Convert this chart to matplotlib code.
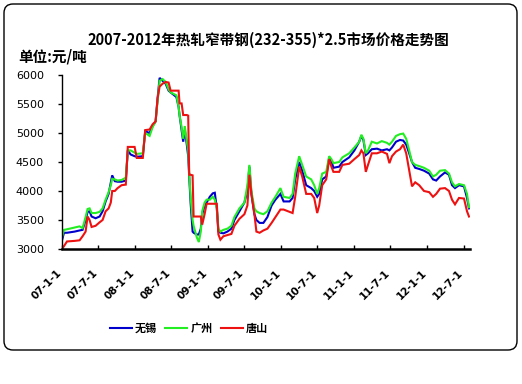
import matplotlib
matplotlib.use("Agg")
import matplotlib.pyplot as plt
from matplotlib.patches import FancyBboxPatch
from matplotlib.transforms import IdentityTransform, ScaledTranslation
import pandas as pd

plt.rcParams['font.family'] = ['Noto Sans CJK SC', 'DejaVu Sans']

dates = [
    "2007-01-01", "2007-01-11", "2007-01-26", "2007-03-05", "2007-03-30", "2007-04-14", "2007-04-29",
    "2007-05-09", "2007-05-19", "2007-05-29", "2007-06-18", "2007-07-08", "2007-07-23", "2007-08-07",
    "2007-08-22", "2007-09-02", "2007-09-09", "2007-09-22", "2007-10-06", "2007-10-26", "2007-11-16",
    "2007-11-26", "2007-12-10", "2007-12-30", "2008-01-10", "2008-02-09", "2008-02-21", "2008-03-14",
    "2008-03-29", "2008-04-13", "2008-04-23", "2008-05-03", "2008-05-18", "2008-06-02", "2008-06-17",
    "2008-06-27", "2008-07-26", "2008-08-06", "2008-08-11", "2008-08-21", "2008-08-29", "2008-09-06",
    "2008-09-16", "2008-09-23", "2008-09-28", "2008-10-05", "2008-10-15", "2008-10-20", "2008-11-05",
    "2008-11-15", "2008-11-25", "2008-12-02", "2008-12-14", "2008-12-24", "2009-01-09", "2009-01-24",
    "2009-02-03", "2009-02-13", "2009-02-21", "2009-03-03", "2009-03-18", "2009-04-07", "2009-04-27",
    "2009-05-12", "2009-06-06", "2009-07-01", "2009-07-16", "2009-07-26", "2009-08-05", "2009-08-20",
    "2009-08-30", "2009-09-15", "2009-10-04", "2009-10-24", "2009-11-14", "2009-12-03", "2009-12-28",
    "2010-01-13", "2010-02-12", "2010-02-27", "2010-03-12", "2010-04-01", "2010-04-16", "2010-05-06",
    "2010-05-31", "2010-06-15", "2010-06-30", "2010-07-10", "2010-07-25", "2010-08-14", "2010-08-29",
    "2010-09-09", "2010-09-19", "2010-10-18", "2010-11-03", "2010-12-07", "2011-01-02", "2011-01-26",
    "2011-02-06", "2011-02-16", "2011-02-28", "2011-03-11", "2011-03-30", "2011-04-25", "2011-05-19",
    "2011-06-14", "2011-06-26", "2011-07-09", "2011-07-29", "2011-08-18", "2011-09-03", "2011-09-18",
    "2011-10-03", "2011-10-17", "2011-11-02", "2011-11-22", "2011-12-16", "2012-01-11", "2012-01-30",
    "2012-02-15", "2012-03-05", "2012-03-30", "2012-04-19", "2012-05-04", "2012-05-19", "2012-06-08",
    "2012-07-03", "2012-07-18", "2012-07-28",
]

wuxi = [
    3150, 3280, 3280, 3300, 3320, 3330, 3500,
    3640, 3650, 3560, 3530, 3560, 3650, 3820,
    3950, 4150, 4270, 4170, 4160, 4160, 4180,
    4700, 4630, 4600, 4590, 4600, 5030, 5000,
    5120, 5200, 5600, 5950, 5900, 5850, 5730,
    5700, 5620, 5450, 5300, 5050, 4850, 5050,
    4800, 4600, 4250, 3800, 3300, 3280, 3250,
    3250, 3350, 3600, 3750, 3800, 3900, 3960,
    3970, 3700, 3300, 3280, 3270, 3300, 3350,
    3500, 3650, 3800, 4000, 4420, 3950, 3600,
    3500, 3450, 3450, 3550, 3750, 3850, 3950,
    3820, 3820, 3880, 4200, 4500, 4350, 4100,
    4050, 4000, 3900, 3950, 4200, 4250, 4580,
    4520, 4400, 4420, 4500, 4580, 4700, 4850,
    4950, 4880, 4620, 4650, 4720, 4730, 4700,
    4720, 4700, 4750, 4850, 4880, 4870, 4800,
    4650, 4500, 4400, 4380, 4350, 4300, 4200,
    4180, 4250, 4320, 4280, 4100, 4050, 4100,
    4080, 3880, 3700,
]

guangzhou = [
    3200, 3330, 3340, 3370, 3390, 3360, 3550,
    3690, 3700, 3620, 3620, 3640, 3700, 3850,
    3980, 4100, 4210, 4200, 4180, 4190, 4230,
    4700, 4700, 4660, 4640, 4650, 5000, 4950,
    5100, 5200, 5550, 5900, 5930, 5880, 5750,
    5700, 5650, 5450, 5300, 5100, 4900, 5120,
    4850, 4700, 4300, 3900, 3500, 3400, 3200,
    3120, 3300, 3650, 3800, 3850, 3850, 3900,
    3850, 3700, 3350, 3300, 3330, 3350, 3400,
    3550, 3700, 3800, 4100, 4450, 4000, 3700,
    3650, 3620, 3600, 3650, 3800, 3900, 4050,
    3900, 3880, 3950, 4300, 4600, 4450, 4250,
    4200, 4100, 3950, 4050, 4300, 4330, 4600,
    4550, 4480, 4500, 4580, 4650, 4750, 4850,
    4970, 4900, 4650, 4700, 4850, 4820, 4860,
    4830, 4800, 4850, 4950, 4980, 4990, 4900,
    4700, 4500, 4450, 4430, 4400, 4350, 4250,
    4280, 4350, 4360, 4300, 4150, 4080, 4120,
    4100, 3950, 3720,
]

tangshan = [
    3000, 3050, 3130, 3140, 3150, 3220, 3300,
    3560, 3500, 3380, 3400, 3460, 3500, 3650,
    3700, 3800, 4000, 4000, 4050, 4100, 4110,
    4760, 4760, 4760, 4570, 4570, 5050, 5060,
    5150, 5200, 5600, 5800, 5850, 5880, 5870,
    5730, 5730, 5730, 5510, 5510, 5310, 5310,
    5310, 5300, 4280, 4280, 4270, 3560, 3560,
    3560, 3560, 3420, 3600, 3780, 3780, 3780,
    3780, 3780, 3250, 3160, 3220, 3240, 3260,
    3400, 3520, 3600, 3750, 4280, 3950, 3600,
    3300, 3280, 3320, 3350, 3450, 3550, 3680,
    3680, 3640, 3620, 3900, 4420, 4250, 3950,
    3950, 3880, 3620, 3750, 4100, 4200, 4550,
    4420, 4330, 4330, 4450, 4470, 4550, 4620,
    4700, 4650, 4330, 4450, 4650, 4650, 4680,
    4640, 4480, 4600, 4680, 4720, 4800, 4650,
    4350, 4080, 4150, 4100, 4000, 3980, 3900,
    3950, 4040, 4050, 4000, 3850, 3770, 3880,
    3870, 3650, 3560,
]

tick_dates = ["2007-01-01", "2007-07-01", "2008-01-01", "2008-07-01", "2009-01-01", "2009-07-01",
              "2010-01-01", "2010-07-01", "2011-01-01", "2011-07-01", "2012-01-01", "2012-07-01"]
tick_labels = ["07-1-1", "07-7-1", "08-1-1", "08-7-1", "09-1-1", "09-7-1",
               "10-1-1", "10-7-1", "11-1-1", "11-7-1", "12-1-1", "12-7-1"]
y_ticks = [3000, 3500, 4000, 4500, 5000, 5500, 6000]

series_names = ["无锡", "广州", "唐山"]
series_colors = ["#0000CC", "#22EE22", "#EE1111"]

title = "2007-2012年热轧窄带钢(232-355)*2.5市场价格走势图"
unit = "单位:元/吨"

x = pd.to_datetime(dates)

fig = plt.figure(figsize=(5.22, 3.84), dpi=100)
fig.patch.set_facecolor("white")

# rounded border
border = FancyBboxPatch((4, 384 - 350), 513, 346,
                        boxstyle="round,pad=0,rounding_size=9",
                        transform=IdentityTransform(), facecolor="none",
                        edgecolor="black", linewidth=1.0)
fig.add_artist(border)

ax = fig.add_axes([62 / 522, 1 - 249 / 384, (470 - 62) / 522, (249 - 75) / 384])

for vals, name, col in zip([wuxi, guangzhou, tangshan], series_names, series_colors):
    ax.plot(x, vals, color=col, lw=1.5, label=name, solid_joinstyle="miter")

ax.set_ylim(3000, 6000)
ax.set_xlim(pd.Timestamp("2007-01-01"), pd.Timestamp("2012-08-02"))
ax.set_yticks(y_ticks)
ax.set_yticklabels([str(v) for v in y_ticks], fontsize=8, family="DejaVu Sans")
ax.set_xticks(pd.to_datetime(tick_dates))
ax.set_xticklabels(tick_labels, rotation=45, ha="right", va="top",
                   fontsize=7.5, fontweight="bold", family="DejaVu Sans",
                   rotation_mode="anchor")
ax.tick_params(axis="y", direction="out", length=3, width=1, pad=10)
ax.tick_params(axis="x", direction="in", length=3, width=1, pad=12)

shift = ScaledTranslation(-6 / 100, -2 / 100, fig.dpi_scale_trans)
for lab in ax.get_xticklabels():
    lab.set_transform(lab.get_transform() + shift)

for s in ["top", "right"]:
    ax.spines[s].set_visible(False)
ax.spines["left"].set_linewidth(1.0)
ax.spines["bottom"].set_linewidth(1.8)

fig.text(268 / 522, 1 - 40 / 384, title, ha="center", va="center",
         fontsize=10.5, fontweight="bold")
fig.text(18 / 522, 1 - 57 / 384, unit, ha="left", va="center",
         fontsize=10.5, fontweight="bold")

leg = fig.legend(loc="center", bbox_to_anchor=(189 / 522, 1 - 328 / 384), ncol=3,
                 frameon=False, prop={"size": 8, "weight": "bold"},
                 handlelength=2.0, handletextpad=0.3, columnspacing=0.7)

fig.savefig("out.png", dpi=100)
